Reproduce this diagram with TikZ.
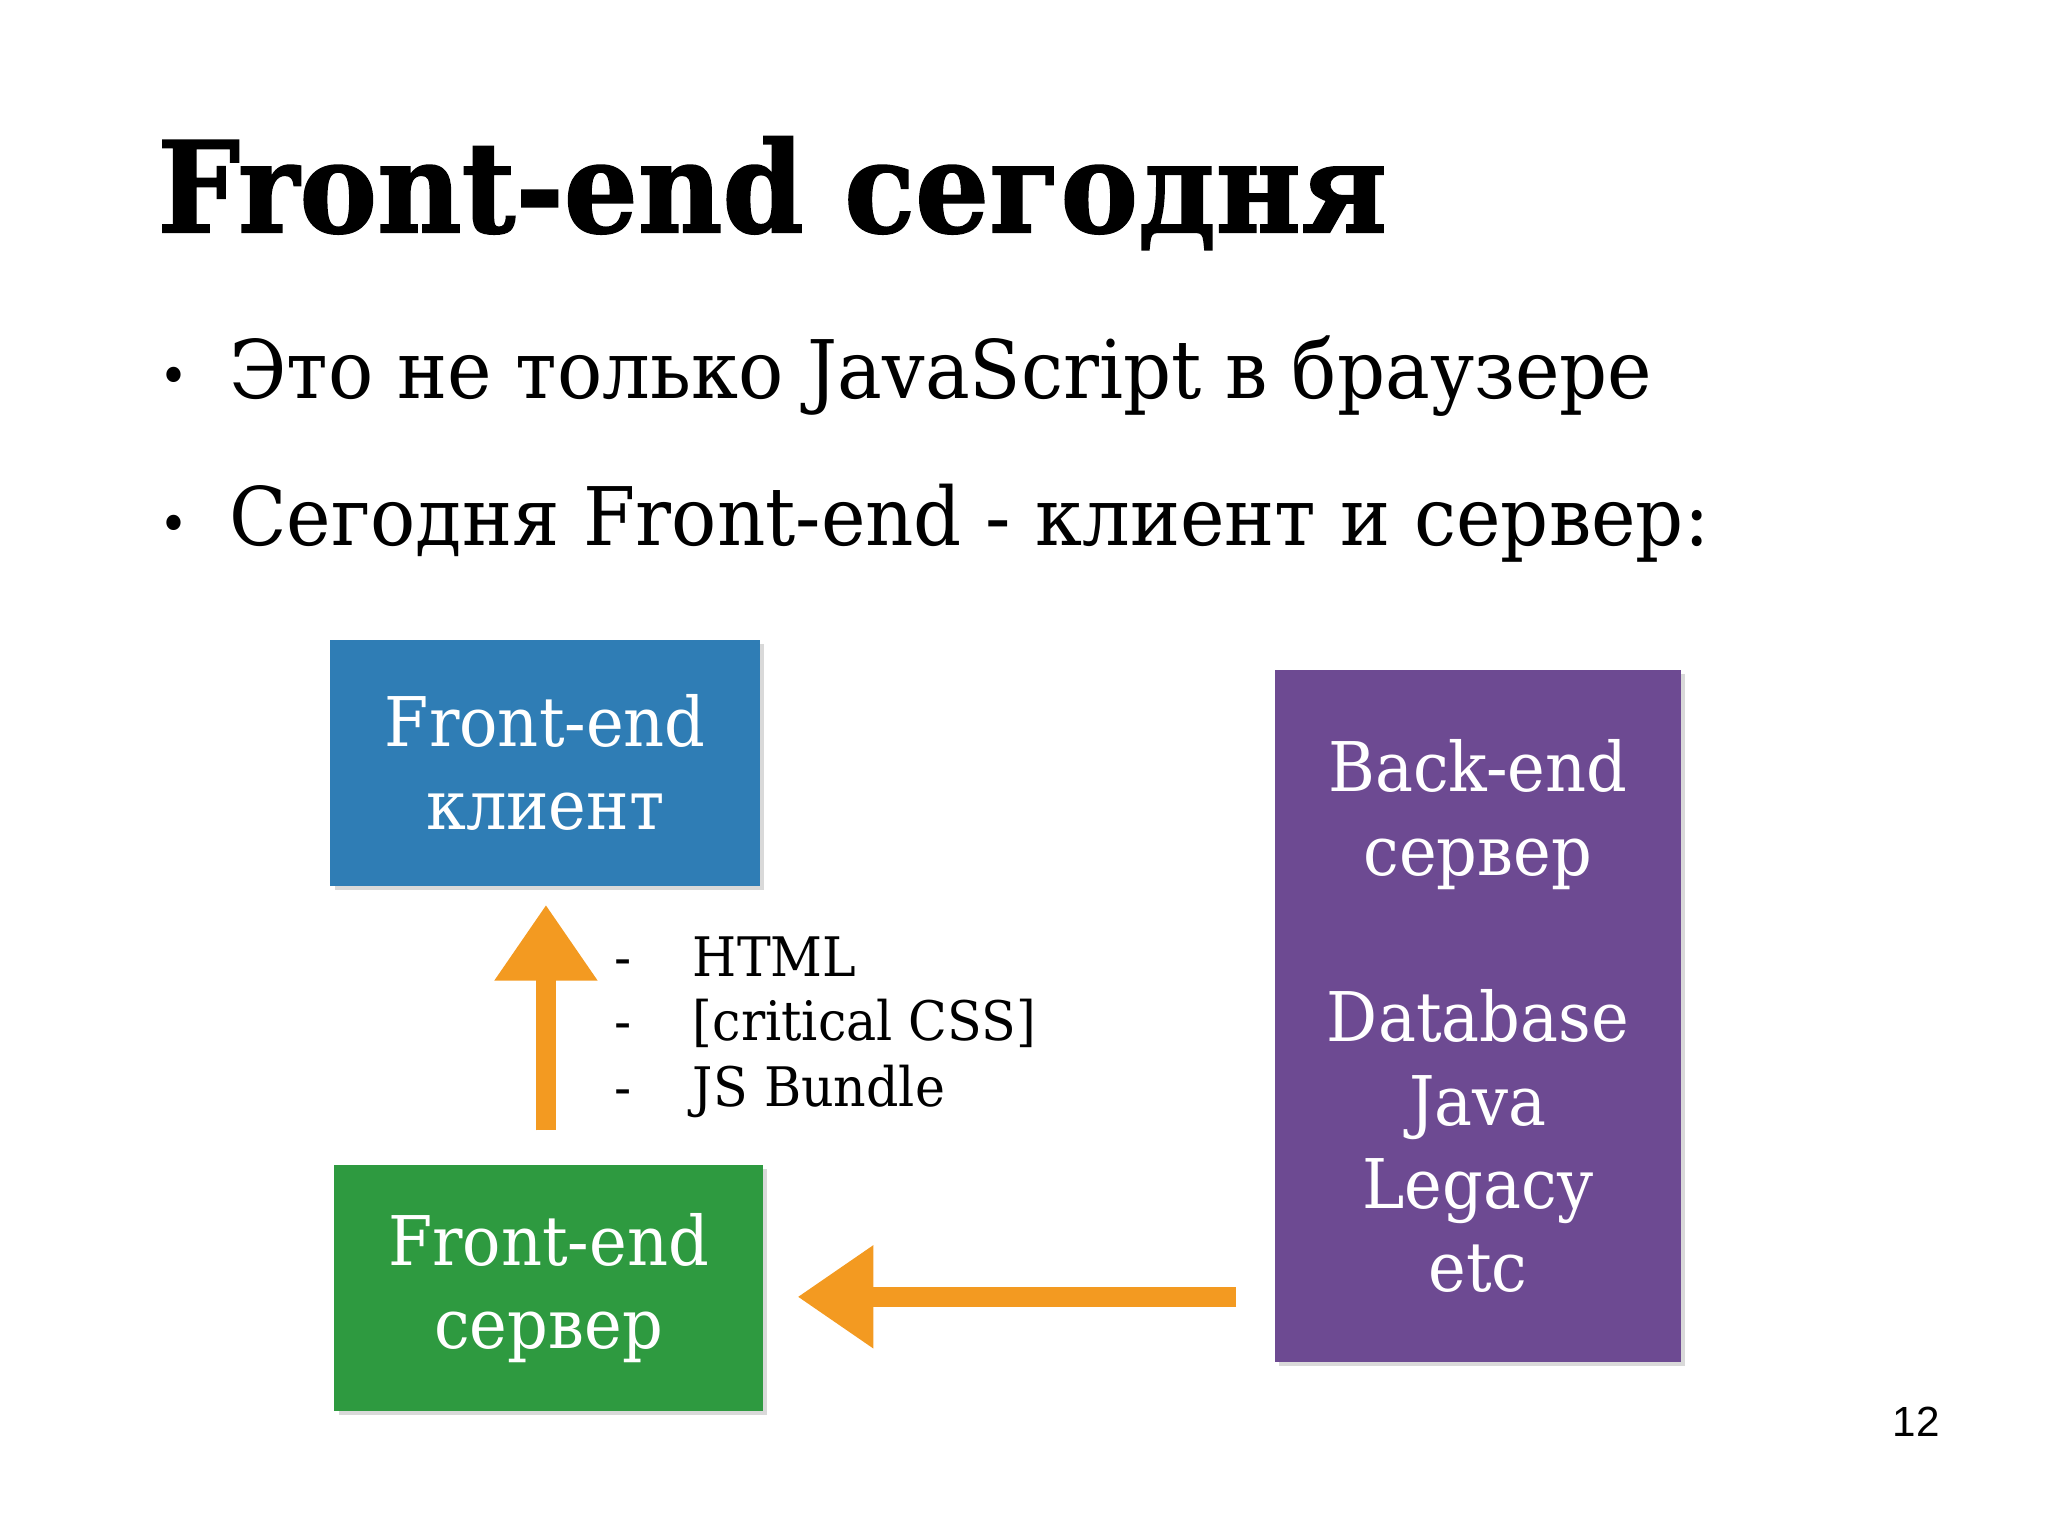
\documentclass[tikz,border=0pt]{standalone}
\usepackage{fontspec}
\setmainfont{DejaVu Serif}[FakeStretch=0.93]
\newfontfamily\titlefont{DejaVu Serif}[FakeStretch=0.92, BoldFeatures={FakeBold=1.2}]
\newfontfamily\pagefont{Liberation Sans}
\usetikzlibrary{arrows.meta,shadows,positioning}
\definecolor{clientblue}{RGB}{47,125,181}
\definecolor{servergreen}{RGB}{46,154,64}
\definecolor{backpurple}{RGB}{109,74,146}
\definecolor{chalkorange}{RGB}{243,154,33}
\tikzset{
    card/.style={inner sep=0pt, align=center, text=white,
            font=\fontsize{19.5}{23.7}\selectfont,
            drop shadow={shadow xshift=1.2pt, shadow yshift=-1.2pt, opacity=0.3}},
    bodytext/.style={anchor=base west, inner sep=0pt, font=\fontsize{23}{28}\selectfont},
    bullettext/.style={anchor=base, inner sep=0pt, font=\fontsize{15}{18}\selectfont},
    listtext/.style={anchor=base west, inner sep=0pt, font=\fontsize{15.5}{19}\selectfont},
    chalk/.style={draw=chalkorange, line width=5.5pt,
            -{Triangle[width=0.98cm, length=0.76cm]}},
}

\begin{document}
\begin{tikzpicture}[x=0.013061cm, y=-0.013061cm]
        \useasboundingbox (0,0) rectangle (1568,1176);
        %title and bullets
        \node[anchor=base west, inner sep=0pt, font=\titlefont\bfseries\fontsize{36}{40}\selectfont] (title) at (120,178) {Front-end сегодня};
        \node[bullettext] (dot1) at (133,302) {•};
        \node[bodytext] (line1) at (175,305) {Это не только JavaScript в браузере};
        \node[bullettext] (dot2) at (133,415) {•};
        \node[bodytext] (line2) at (175,418) {Сегодня Front-end - клиент и сервер:};
        %boxes
        \node[card, fill=clientblue, minimum width=4.297cm, minimum height=2.455cm] (fec) at (417.5,584) {Front-end\\клиент};
        \node[card, fill=servergreen, minimum width=4.284cm, minimum height=2.455cm] (fes) at (420,986) {Front-end\\сервер};
        \node[card, fill=backpurple, minimum width=4.062cm, minimum height=6.922cm] (bes) at (1131.5,778) {Back-end\\сервер\\[23.7pt]Database\\Java\\Legacy\\etc};
        %what the front-end server sends
        \node[listtext] (dash1) at (470,748) {-};
        \node[listtext] (html) at (530,748) {HTML};
        \node[listtext] (dash2) at (470,797) {-};
        \node[listtext] (css) at (530,797) {[critical CSS]};
        \node[listtext] (dash3) at (470,847) {-};
        \node[listtext] (bundle) at (530,847) {JS Bundle};
        %arrows
        \draw[chalk, shorten <=0.34cm, shorten >=0.185cm] (fes.north -| 418,0) -- (fec.south -| 418,0);
        \draw[chalk, shorten <=0.38cm, shorten >=0.34cm] ([yshift=-0.09cm]bes.west |- fes.east) -- ([yshift=-0.09cm]fes.east);
        %page number
        \node[anchor=base, inner sep=0pt, font=\pagefont\fontsize{12}{14}\selectfont] (page) at (1467,1100) {12};
    \end{tikzpicture}
\end{document}
